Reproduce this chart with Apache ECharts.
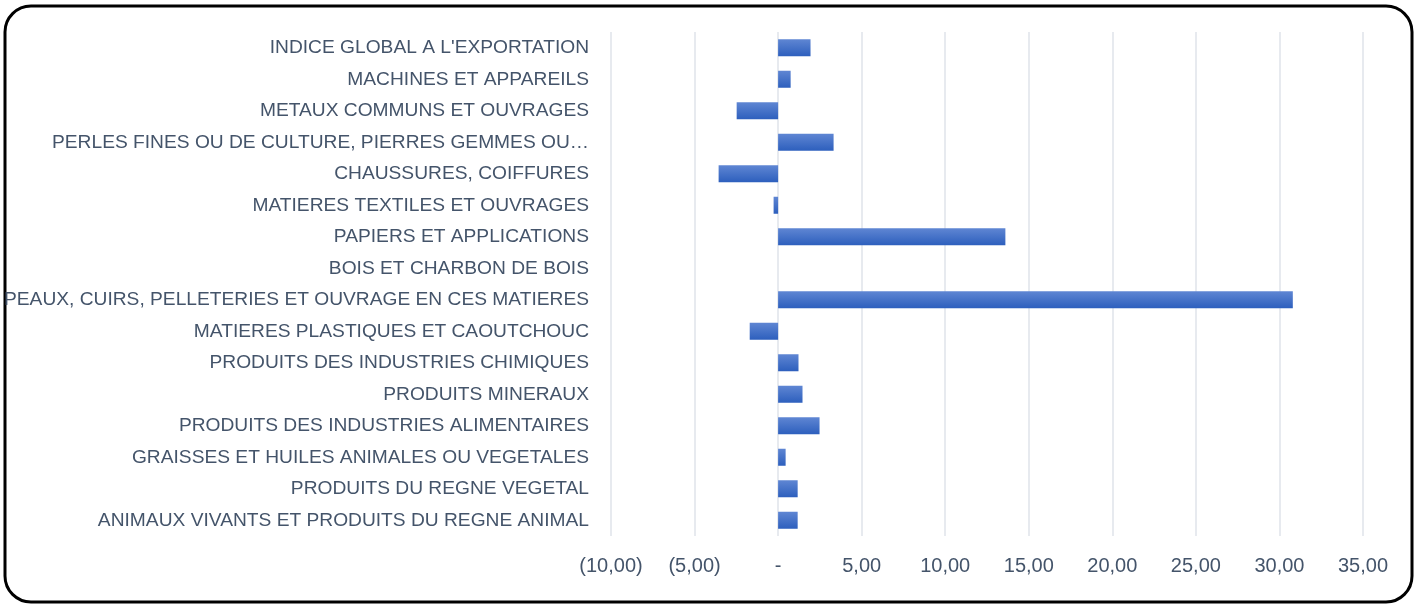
<!DOCTYPE html>
<html>
<head>
<meta charset="utf-8">
<script src="https://cdn.jsdelivr.net/npm/echarts@6/dist/echarts.min.js"></script>
<style>
  html, body { margin: 0; padding: 0; background: #fff; }
  #chart { width: 1419px; height: 608px; }
</style>
</head>
<body>
<div id="chart"></div>
<script>
// categories, top to bottom
const categories = [
  "INDICE GLOBAL A L'EXPORTATION",
  "MACHINES ET APPAREILS",
  "METAUX COMMUNS ET OUVRAGES",
  "PERLES FINES OU DE CULTURE, PIERRES GEMMES OU…",
  "CHAUSSURES, COIFFURES",
  "MATIERES TEXTILES ET OUVRAGES",
  "PAPIERS ET APPLICATIONS",
  "BOIS ET CHARBON DE BOIS",
  "PEAUX, CUIRS, PELLETERIES ET OUVRAGE EN CES MATIERES",
  "MATIERES PLASTIQUES ET CAOUTCHOUC",
  "PRODUITS DES INDUSTRIES CHIMIQUES",
  "PRODUITS MINERAUX",
  "PRODUITS DES INDUSTRIES ALIMENTAIRES",
  "GRAISSES ET HUILES ANIMALES OU VEGETALES",
  "PRODUITS DU REGNE VEGETAL",
  "ANIMAUX VIVANTS ET PRODUITS DU REGNE ANIMAL"
];
const values = [1.94, 0.75, -2.48, 3.32, -3.56, -0.27, 13.6, 0, 30.8, -1.7, 1.22, 1.46, 2.48, 0.45, 1.17, 1.17];
const axisMin = -10;
const axisMax = 35;
const axisStep = 5;

const textColor = "#44546a";
const font = "Liberation Sans";

function fmt(v) {
  if (v === 0) return "-";
  const s = Math.abs(v).toFixed(2).replace(".", ",");
  return v < 0 ? "(" + s + ")" : s;
}

const chart = echarts.init(document.getElementById("chart"));

chart.setOption({
  animation: false,
  grid: { left: 611, right: 56, top: 32, bottom: 72, containLabel: false },
  graphic: [{
    type: "rect",
    shape: { x: 5, y: 6, width: 1407, height: 596, r: 26 },
    style: { fill: "none", stroke: "#000", lineWidth: 3 },
    silent: true
  }],
  xAxis: {
    type: "value",
    min: axisMin,
    max: axisMax,
    interval: axisStep,
    axisLine: { show: false },
    axisTick: { show: false },
    splitLine: { lineStyle: { color: "#dfe3ea", width: 1.5 } },
    axisLabel: {
      formatter: fmt,
      color: textColor,
      fontFamily: font,
      fontSize: 20,
      margin: 20
    }
  },
  yAxis: {
    type: "category",
    data: categories,
    inverse: true,
    axisLine: { show: false },
    axisTick: { show: false },
    splitLine: { show: false },
    axisLabel: {
      color: textColor,
      fontFamily: font,
      fontSize: 19.2,
      margin: 22
    }
  },
  series: [{
    type: "bar",
    data: values,
    barCategoryGap: "46%",
    itemStyle: {
      color: new echarts.graphic.LinearGradient(0, 0, 0, 1, [
        { offset: 0, color: "#5f86d3" },
        { offset: 1, color: "#2d5fbd" }
      ])
    }
  }]
});
</script>
</body>
</html>
